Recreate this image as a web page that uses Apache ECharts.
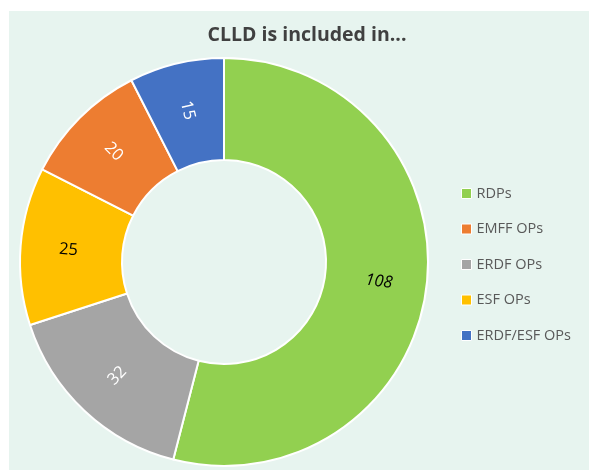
<!DOCTYPE html>
<html>
<head>
<meta charset="utf-8">
<script src="https://cdn.jsdelivr.net/npm/echarts@6/dist/echarts.min.js"></script>
<style>
html,body{margin:0;padding:0;background:#ffffff;}
#chart{width:589px;height:470px;}
</style>
</head>
<body>
<div id="chart"></div>
<script>
// Data (drawing order, clockwise from 12 o'clock)
var categories = ['RDPs', 'ERDF OPs', 'ESF OPs', 'EMFF OPs', 'ERDF/ESF OPs'];
var values = [108, 32, 25, 20, 15];
var colors = ['#92D050', '#A5A5A5', '#FFC000', '#ED7D31', '#4472C4'];
var labelColors = ['#000000', '#ffffff', '#000000', '#ffffff', '#ffffff'];
var labelStyles = ['italic', 'normal', 'normal', 'normal', 'normal'];
var legendOrder = ['RDPs', 'EMFF OPs', 'ERDF OPs', 'ESF OPs', 'ERDF/ESF OPs'];
var titleText = 'CLLD is included in...';

var chart = echarts.init(document.getElementById('chart'), null, {renderer: 'canvas'});

var seriesData = categories.map(function (c, i) {
  return {
    name: c,
    value: values[i],
    itemStyle: {color: colors[i]},
    label: {color: labelColors[i], fontStyle: labelStyles[i], fontSize: 16.5, fontFamily: 'Open Sans'}
  };
});

chart.setOption({
  animation: false,
  backgroundColor: '#ffffff',
  graphic: [{
    type: 'rect',
    z: -10,
    silent: true,
    shape: {x: 9, y: 11, width: 600, height: 480},
    style: {fill: '#E7F4EF'}
  }],
  title: {
    text: titleText,
    left: 302,
    textAlign: 'center',
    top: 20,
    textStyle: {
      fontFamily: 'Open Sans',
      fontWeight: 'bold',
      fontSize: 19.5,
      color: '#404040'
    }
  },
  legend: {
    orient: 'vertical',
    left: 456,
    top: 180,
    data: legendOrder,
    icon: 'rect',
    itemWidth: 10,
    itemHeight: 10,
    itemGap: 18.5,
    itemStyle: {borderColor: '#ffffff', borderWidth: 1},
    textStyle: {
      fontFamily: 'Open Sans',
      fontSize: 14.5,
      color: '#595959',
      lineHeight: 17
    }
  },
  series: [{
    type: 'pie',
    center: [224, 262],
    radius: [102, 204],
    startAngle: 90,
    clockwise: true,
    avoidLabelOverlap: false,
    itemStyle: {borderColor: '#ffffff', borderWidth: 2},
    label: {
      show: true,
      position: 'inside',
      rotate: 'radial',
      formatter: '{c}',
      fontFamily: 'Open Sans',
      fontSize: 16.5
    },
    labelLine: {show: false},
    emphasis: {disabled: true},
    data: seriesData
  }]
});
</script>
</body>
</html>
